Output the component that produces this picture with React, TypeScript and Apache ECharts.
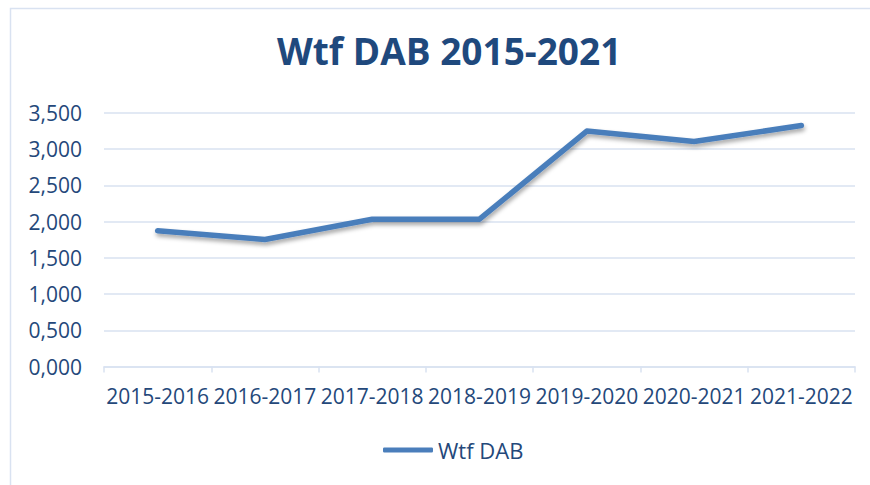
import React, { useEffect, useRef } from "react";
import * as echarts from "echarts";

const categories = ["2015-2016", "2016-2017", "2017-2018", "2018-2019", "2019-2020", "2020-2021", "2021-2022"];
const wtfDab = [1.873, 1.754, 2.034, 2.034, 3.25, 3.106, 3.327];
const seriesName = "Wtf DAB";
const titleText = "Wtf DAB 2015-2021";

const FONT = "'Open Sans', sans-serif";
const TEXT_COLOR = "#24487A";
const GRID_COLOR = "#D9E2F1";

export default function App() {
  const ref = useRef<HTMLDivElement>(null);
  useEffect(() => {
    if (!ref.current) return;
    const chart = echarts.init(ref.current, null, { renderer: "svg" });
    chart.setOption({
      animation: false,
      backgroundColor: "#ffffff",
      graphic: [
        {
          type: "rect",
          shape: { x: 10.5, y: 8.5, width: 900, height: 500 },
          style: { fill: "none", stroke: GRID_COLOR, lineWidth: 1.5 },
          silent: true,
        },
      ],
      title: {
        text: titleText,
        left: 272,
        top: 27,
        textStyle: { fontFamily: FONT, fontWeight: "bold", fontSize: 37, color: "#1F497D" },
      },
      grid: { left: 104, right: 15, top: 113, bottom: 118.5 },
      legend: {
        data: [seriesName],
        bottom: 19,
        left: 378,
        icon: "roundRect",
        itemWidth: 50,
        itemHeight: 5,
        itemGap: 5,
        textStyle: { fontFamily: FONT, fontSize: 22, color: TEXT_COLOR, padding: [0, 0, 0, 0] },
      },
      xAxis: {
        type: "category",
        data: categories,
        boundaryGap: true,
        axisLine: { lineStyle: { color: GRID_COLOR, width: 1.5 } },
        axisTick: { show: true, length: 6, lineStyle: { color: GRID_COLOR, width: 1.5 } },
        axisLabel: { fontFamily: FONT, fontSize: 21, color: TEXT_COLOR, margin: 19, interval: 0 },
      },
      yAxis: {
        type: "value",
        min: 0,
        max: 3.5,
        interval: 0.5,
        axisLine: { show: false },
        axisTick: { show: false },
        splitLine: { lineStyle: { color: GRID_COLOR, width: 1.5 } },
        axisLabel: {
          fontFamily: FONT,
          fontSize: 21,
          color: TEXT_COLOR,
          margin: 22,
          formatter: (v: number) => v.toFixed(3).replace(".", ","),
        },
      },
      series: [
        {
          name: seriesName,
          type: "line",
          data: wtfDab,
          symbol: "none",
          lineStyle: {
            color: "#4A7EBB",
            width: 5.5,
            cap: "round",
            join: "round",
            shadowColor: "rgba(0,0,0,0.35)",
            shadowBlur: 4,
            shadowOffsetX: 1,
            shadowOffsetY: 3,
          },
          itemStyle: { color: "#4A7EBB" },
        },
      ],
    });
    return () => chart.dispose();
  }, []);
  return <div ref={ref} style={{ position: "absolute", left: 0, top: 0, width: 870, height: 485 }} />;
}
